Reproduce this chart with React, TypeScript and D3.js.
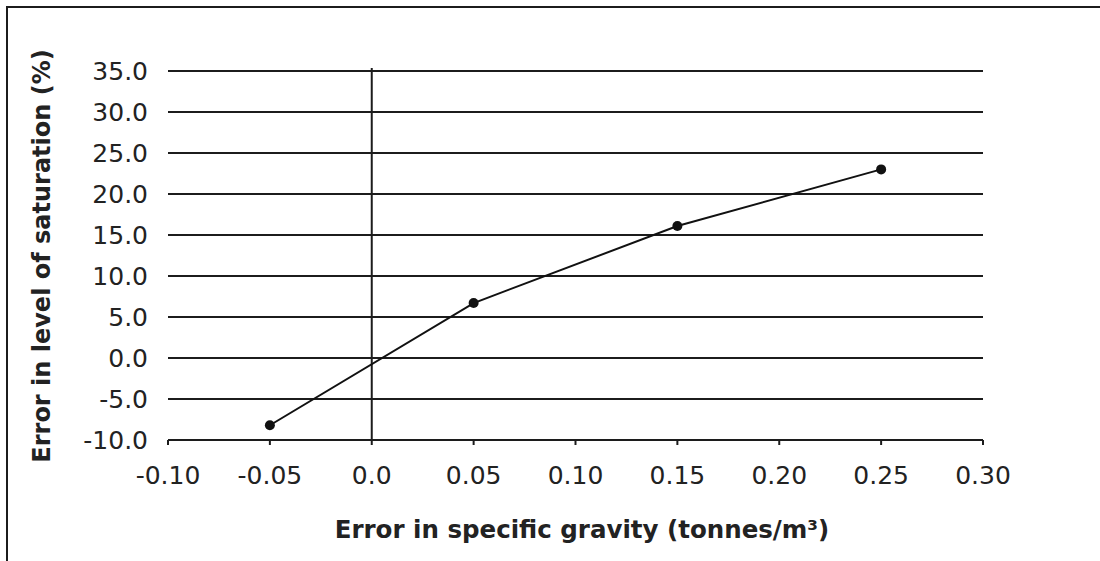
import React from "react";
import * as d3 from "d3";

const xValues = [-0.05, 0.05, 0.15, 0.25];
const yValues = [-8.2, 6.7, 16.1, 23.0];
const xTicks = [-0.1, -0.05, 0.0, 0.05, 0.1, 0.15, 0.2, 0.25, 0.3];
const xTickLabels = ["-0.10", "-0.05", "0.0", "0.05", "0.10", "0.15", "0.20", "0.25", "0.30"];
const yTicks = [-10, -5, 0, 5, 10, 15, 20, 25, 30, 35];
const xTitle = "Error in specific gravity (tonnes/m³)";
const yTitle = "Error in level of saturation (%)";

export default function App() {
  const W = 1100;
  const H = 561;
  const x = d3.scaleLinear().domain([-0.1, 0.3]).range([168, 983]);
  const y = d3.scaleLinear().domain([-10, 35]).range([440, 71]);
  const pts = xValues.map((v, i) => [x(v), y(yValues[i])] as [number, number]);
  const line = d3.line()(pts) || "";
  const font = "'DejaVu Sans', sans-serif";
  const ink = "#1c1c1c";
  const fmt = (t: number) => d3.format(".1f")(t).replace("\u2212", "-");
  return (
    <svg
      width={W}
      height={H}
      style={{ position: "absolute", left: 0, top: 0, background: "#fff" }}
      fontFamily={font}
    >
      <rect x={7} y={7} width={W + 20} height={H + 20} fill="#fff" stroke={ink} strokeWidth={2} />
      {yTicks.map((t) => (
        <g key={t}>
          <line x1={x(-0.1)} x2={x(0.3)} y1={y(t)} y2={y(t)} stroke={ink} strokeWidth={2} />
          <text
            x={148}
            y={y(t)}
            dy="0.36em"
            textAnchor="end"
            fontSize={25}
            fill="#222"
          >
            {fmt(t)}
          </text>
        </g>
      ))}
      <line x1={x(0)} x2={x(0)} y1={y(35) - 3} y2={y(-10)} stroke={ink} strokeWidth={2} />
      {xTicks.map((t, i) => (
        <g key={i}>
          <line x1={x(t)} x2={x(t)} y1={y(-10)} y2={y(-10) + 5} stroke={ink} strokeWidth={2} />
          <text x={x(t)} y={484} textAnchor="middle" fontSize={25} fill="#222">
            {xTickLabels[i]}
          </text>
        </g>
      ))}
      <path d={line} fill="none" stroke="#111" strokeWidth={2} />
      {pts.map((p, i) => (
        <circle key={i} cx={p[0]} cy={p[1]} r={5} fill="#111" />
      ))}
      <text x={582} y={538} textAnchor="middle" fontSize={24.5} fontWeight="bold" fill="#222">
        {xTitle}
      </text>
      <text
        transform={`translate(50,256) rotate(-90)`}
        textAnchor="middle"
        fontSize={24}
        fontWeight="bold"
        fill="#222"
      >
        {yTitle}
      </text>
    </svg>
  );
}
